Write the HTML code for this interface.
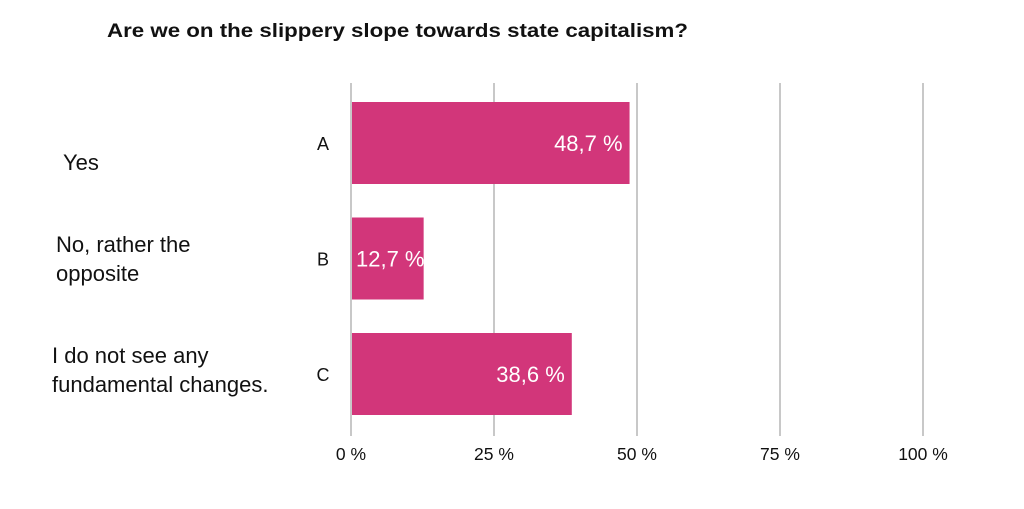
<!DOCTYPE html>
<html><head><meta charset="utf-8"><style>
body{margin:0;background:#fff;width:1024px;height:504px;overflow:hidden;font-family:"Liberation Sans",sans-serif;}
</style></head><body>
<svg width="1024" height="504">
<text x="107" y="37" font-size="19" font-weight="bold" fill="#111" textLength="581" lengthAdjust="spacingAndGlyphs">Are we on the slippery slope towards state capitalism?</text>
<g id="grid"></g><g id="bars"></g><g id="labels"></g>
</svg>
<script>
const categories=["A","B","C"];
const answers=[["Yes"],["No, rather the","opposite"],["I do not see any","fundamental changes."]];
const values=[48.7,12.7,38.6];
const valueLabels=["48,7 %","12,7 %","38,6 %"];
const ticks=[0,25,50,75,100];
const tickLabels=["0 %","25 %","50 %","75 %","100 %"];
const NS="http://www.w3.org/2000/svg";
const x=v=>351+v*5.72;
const bandTop=i=>102+i*115.5, bandH=82;
const answerX=[63,56,52], answerY=[170,252,363];
function mk(t,a,p){const e=document.createElementNS(NS,t);for(const k in a)e.setAttribute(k,a[k]);p.appendChild(e);return e;}
const grid=document.getElementById('grid'),bars=document.getElementById('bars'),labels=document.getElementById('labels');
ticks.forEach((t,i)=>{
 const l=mk('line',{x1:x(t),x2:x(t),y1:83,y2:436,stroke:'#c8c8c8','stroke-width':2},grid);
 
 
 const tx=mk('text',{x:x(t),y:460,'font-size':17.5,'text-anchor':'middle',fill:'#111'},grid);
 tx.textContent=tickLabels[i];
 
 
});
const defs=mk('defs',{},bars);
categories.forEach((c,i)=>{
 const y=bandTop(i),w=x(values[i])-x(0);
 const cp=mk('clipPath',{id:'cp'+i},defs);mk('rect',{x:352,y:y,width:w-1,height:bandH},cp);
 const r=mk('rect',{x:352,y:y,width:w-1,height:bandH,fill:'#d2367a'},bars);
 
 
 const small=w<120;
 const vt=mk('text',{x:small?356:x(values[i])-7,y:y+bandH/2+8,'font-size':22,fill:'#fff','text-anchor':small?'start':'end','clip-path':'url(#cp'+i+')'},bars);
 vt.textContent=valueLabels[i];
 
 
 const ct=mk('text',{x:323,y:y+bandH/2+7,'font-size':18,'text-anchor':'middle',fill:'#111'},labels);
 ct.textContent=c;
 
 
 answers[i].forEach((s,j)=>{
  const at=mk('text',{x:answerX[i],y:answerY[i]+j*29,'font-size':22,fill:'#111'},labels);
  at.textContent=s;
  
  
 });
});
</script>
</body></html>
